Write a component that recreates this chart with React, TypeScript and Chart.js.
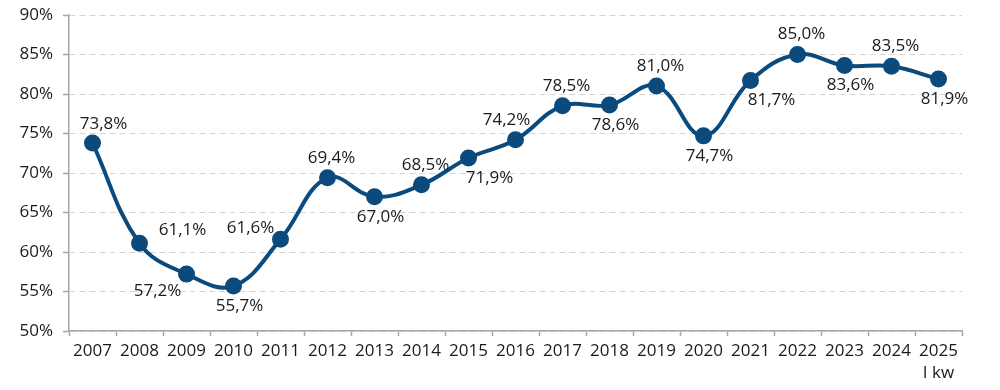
import React, { useEffect, useRef } from 'react';
import { Chart, registerables } from 'chart.js';

Chart.register(...registerables);

const categories: (string | string[])[] = [
  '2007', '2008', '2009', '2010', '2011', '2012', '2013', '2014', '2015', '2016',
  '2017', '2018', '2019', '2020', '2021', '2022', '2023', '2024', ['2025', 'I kw'],
];
const values = [73.8, 61.1, 57.2, 55.7, 61.6, 69.4, 67.0, 68.5, 71.9, 74.2, 78.5, 78.6, 81.0, 74.7, 81.7, 85.0, 83.6, 83.5, 81.9];
const labelPlacement = ['NE', 'E', 'SW', 'S', 'W', 'N', 'S', 'N', 'SE', 'NW', 'N', 'S', 'N', 'S', 'SE', 'N', 'S', 'N', 'S'];
const yMin = 50;
const yMax = 90;
const yStep = 5;

const LINE_COLOR = '#0b4a7d';
const TEXT_COLOR = '#1a1a1a';
const FONT = '"Open Sans"';

const placementOffsets: Record<string, [number, number]> = {
  N: [4, -20],
  NE: [11, -19],
  NW: [-9, -20],
  S: [6, 20],
  SE: [21, 20],
  SW: [-29, 17],
  E: [43, -13],
  W: [-30, -11],
};

const fmt = (v: number) => v.toFixed(1).replace('.', ',') + '%';

const labelPlugin = {
  id: 'pointLabels',
  afterDatasetsDraw(chart: any) {
    const ctx = chart.ctx;
    const meta = chart.getDatasetMeta(0);
    ctx.save();
    ctx.font = `17px ${FONT}`;
    ctx.fillStyle = TEXT_COLOR;
    ctx.textAlign = 'center';
    ctx.textBaseline = 'middle';
    meta.data.forEach((pt: any, i: number) => {
      const [dx, dy] = placementOffsets[labelPlacement[i]] || [0, -20];
      ctx.fillText(fmt(values[i]), pt.x + dx, pt.y + dy);
    });
    ctx.restore();
  },
};

export default function App() {
  const ref = useRef<HTMLCanvasElement | null>(null);
  useEffect(() => {
    document.body.style.margin = '0';
    if (!ref.current) return;
    const chart = new Chart(ref.current, {
      type: 'line',
      data: {
        labels: categories as any,
        datasets: [
          {
            data: values,
            borderColor: LINE_COLOR,
            backgroundColor: LINE_COLOR,
            borderWidth: 4,
            pointRadius: 6.5,
            pointBackgroundColor: LINE_COLOR,
            pointBorderColor: LINE_COLOR,
            tension: 0.4,
            fill: false,
          },
        ],
      },
      options: {
        responsive: false,
        animation: false,
        layout: { padding: { top: 15, right: 38, left: 0, bottom: 0 } },
        plugins: {
          legend: { display: false },
          tooltip: { enabled: false },
        },
        scales: {
          x: {
            offset: true,
            grid: {
              offset: true,
              drawOnChartArea: false,
              drawTicks: true,
              tickLength: 5,
              tickColor: '#a6a6a6',
              tickWidth: 1.5,
            },
            border: { color: '#a6a6a6', width: 1.5 },
            ticks: {
              color: TEXT_COLOR,
              font: { family: FONT, size: 17, lineHeight: 1.25 },
              padding: 5,
              maxRotation: 0,
              autoSkip: false,
            },
            afterFit: (s: any) => {
              s.height = 59;
              s.paddingLeft = 0;
              s.paddingRight = 0;
            },
          },
          y: {
            min: yMin,
            max: yMax,
            grid: {
              color: '#d4d4d4',
              lineWidth: 1,
              drawTicks: true,
              tickLength: 6,
              tickColor: '#a6a6a6',
              tickWidth: 1.5,
              tickBorderDash: [],
            },
            border: { color: '#a6a6a6', width: 1.5, dash: [6, 4] },
            ticks: {
              stepSize: yStep,
              color: TEXT_COLOR,
              font: { family: FONT, size: 17 },
              padding: 10,
              callback: (v: any) => `${v}%`,
            },
            afterFit: (s: any) => {
              s.width = 69;
              s.paddingTop = 0;
              s.paddingBottom = 0;
            },
          },
        },
      },
      plugins: [labelPlugin],
    });
    return () => chart.destroy();
  }, []);
  return (
    <div style={{ width: 1000, height: 390 }}>
      <canvas ref={ref} width={1000} height={390} />
    </div>
  );
}
